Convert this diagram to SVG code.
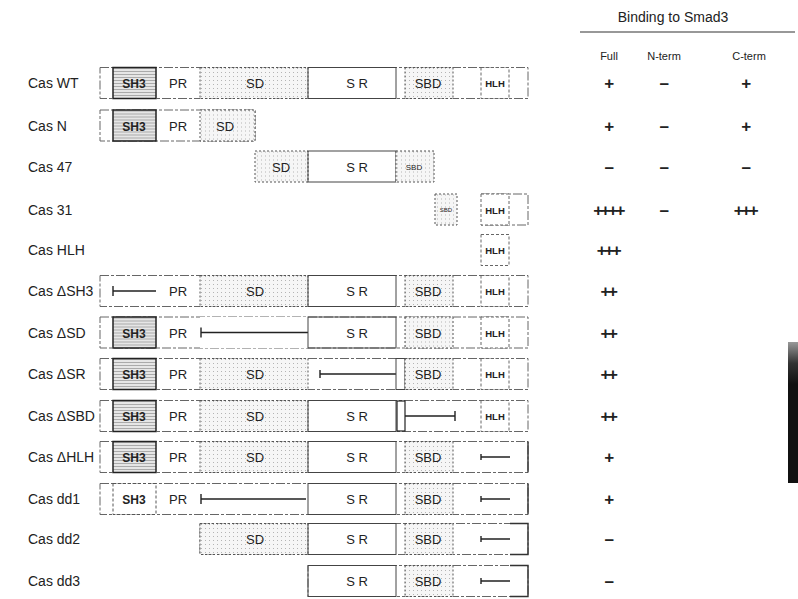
<svg xmlns="http://www.w3.org/2000/svg" width="798" height="599" viewBox="0 0 798 599">
<style>
.bg{fill:#fff}
.frame{fill:none;stroke:#666;stroke-width:1;stroke-dasharray:9 2 3 2}
.sh3{fill:url(#hatch);stroke:#222;stroke-width:1.5}
.sh3l{fill:#fff;stroke:#555;stroke-width:1;stroke-dasharray:3 2}
.sd{fill:url(#stip);stroke:#555;stroke-width:1;stroke-dasharray:2 2}
.sr{fill:none;stroke:#444;stroke-width:1}
.hlh{fill:#fff;stroke:#666;stroke-width:1;stroke-dasharray:3 2}
.del{fill:none;stroke:#222;stroke-width:1.4}
.end{fill:none;stroke:#333;stroke-width:1.4}
text{font-family:"Liberation Sans",Arial,sans-serif;fill:#222}
.lbl{font-size:14px}
.dm{font-size:13px;text-anchor:middle}
.dmb{font-size:12px;font-weight:bold;text-anchor:middle}
.hl{font-size:9.5px;font-weight:bold;text-anchor:middle}
.sm{font-size:8px;text-anchor:middle}
.val{font-size:17px;font-weight:bold;text-anchor:middle;letter-spacing:-2.5px}
.hdr{font-size:11px;text-anchor:middle}
</style>
<defs>
<pattern id="stip" width="4" height="4" patternUnits="userSpaceOnUse">
<rect width="4" height="4" fill="#f6f6f6"/>
<rect x="1" y="1" width="1" height="1" fill="#b4b4b4"/>
</pattern>
<pattern id="hatch" width="4" height="3" patternUnits="userSpaceOnUse">
<rect width="4" height="3" fill="#e6e6e6"/>
<rect y="0" width="4" height="1" fill="#aaa"/>
</pattern>
<linearGradient id="barg" x1="0" y1="0" x2="0" y2="1">
<stop offset="0" stop-color="#999"/>
<stop offset="0.15" stop-color="#333"/>
<stop offset="0.3" stop-color="#111"/>
<stop offset="1" stop-color="#111"/>
</linearGradient>
</defs>
<rect class="bg" width="798" height="599"/>

<g id="header">
<text x="673" y="22" style="font-size:14px;text-anchor:middle">Binding to Smad3</text>
<line x1="580" y1="32" x2="795" y2="32" stroke="#333" stroke-width="1.2"/>
<text class="hdr" x="609" y="60">Full</text>
<text class="hdr" x="664" y="60">N-term</text>
<text class="hdr" x="749" y="60">C-term</text>
</g>

<g id="cas-wt" transform="translate(0,83)">
<text class="lbl" x="28" y="5">Cas WT</text>
<rect class="frame" x="100" y="-15.5" width="428" height="31"/>
<rect class="sh3" x="113" y="-15.5" width="43" height="31"/>
<text class="dmb" x="134" y="5">SH3</text>
<text class="dm" x="178" y="5">PR</text>
<rect class="sd" x="200" y="-15.5" width="108" height="31"/>
<text class="dm" x="255" y="5">SD</text>
<rect class="sr" x="308" y="-15.5" width="88" height="31"/>
<text class="dm" x="357" y="5">S R</text>
<rect class="sd" x="405" y="-15.5" width="48" height="31"/>
<text class="dm" x="428" y="5">SBD</text>
<rect class="hlh" x="481" y="-15.5" width="28" height="31"/>
<text class="hl" x="495" y="4">HLH</text>
<text class="val" x="608" y="6">+</text>
<text class="val" x="663" y="6">–</text>
<text class="val" x="745" y="6">+</text>
</g>

<g id="cas-n" transform="translate(0,125.5)">
<text class="lbl" x="28" y="5">Cas N</text>
<rect class="frame" x="100" y="-15.5" width="155" height="31"/>
<rect class="sh3" x="113" y="-15.5" width="43" height="31"/>
<text class="dmb" x="134" y="5">SH3</text>
<text class="dm" x="178" y="5">PR</text>
<rect class="sd" x="200" y="-15.5" width="55" height="31"/>
<text class="dm" x="225" y="5">SD</text>
<text class="val" x="608" y="6">+</text>
<text class="val" x="663" y="6">–</text>
<text class="val" x="745" y="6">+</text>
</g>

<g id="cas-47" transform="translate(0,166.5)">
<text class="lbl" x="28" y="5">Cas 47</text>
<rect class="sd" x="255" y="-15.5" width="53" height="31"/>
<text class="dm" x="281" y="5">SD</text>
<rect class="sr" x="308" y="-15.5" width="88" height="31"/>
<text class="dm" x="357" y="5">S R</text>
<rect class="sd" x="396" y="-15.5" width="38" height="31"/>
<text class="sm" x="414" y="3">SBD</text>
<text class="val" x="608" y="6">–</text>
<text class="val" x="663" y="6">–</text>
<text class="val" x="745" y="6">–</text>
</g>

<g id="cas-31" transform="translate(0,209.5)">
<text class="lbl" x="28" y="5">Cas 31</text>
<rect class="sd" x="435" y="-15.5" width="22" height="31"/>
<text class="sm" x="446" y="2" style="font-size:6px">SBD</text>
<path class="frame" d="M481,-15.5H528V15.5H481"/>
<rect class="hlh" x="481" y="-15.5" width="28" height="31"/>
<text class="hl" x="495" y="4">HLH</text>
<text class="val" x="608" y="6">++++</text>
<text class="val" x="663" y="6">–</text>
<text class="val" x="745" y="6">+++</text>
</g>

<g id="cas-hlh" transform="translate(0,250)">
<text class="lbl" x="28" y="5">Cas HLH</text>
<rect class="hlh" x="481" y="-15.5" width="28" height="31"/>
<text class="hl" x="495" y="4">HLH</text>
<text class="val" x="608" y="6">+++</text>
</g>

<g id="cas-dsh3" transform="translate(0,291)">
<text class="lbl" x="28" y="5">Cas ΔSH3</text>
<rect class="frame" x="100" y="-15.5" width="428" height="31"/>
<path class="del" d="M113,-5V5M113,0H156"/>
<text class="dm" x="178" y="5">PR</text>
<rect class="sd" x="200" y="-15.5" width="108" height="31"/>
<text class="dm" x="255" y="5">SD</text>
<rect class="sr" x="308" y="-15.5" width="88" height="31"/>
<text class="dm" x="357" y="5">S R</text>
<rect class="sd" x="405" y="-15.5" width="48" height="31"/>
<text class="dm" x="428" y="5">SBD</text>
<rect class="hlh" x="481" y="-15.5" width="28" height="31"/>
<text class="hl" x="495" y="4">HLH</text>
<text class="val" x="608" y="6">++</text>
</g>

<g id="cas-dsd" transform="translate(0,332.5)">
<text class="lbl" x="28" y="5">Cas ΔSD</text>
<rect class="frame" x="100" y="-15.5" width="428" height="31"/>
<rect class="sh3" x="113" y="-15.5" width="43" height="31"/>
<text class="dmb" x="134" y="5">SH3</text>
<text class="dm" x="178" y="5">PR</text>
<rect x="200" y="-15.5" width="108" height="31" fill="#fff"/>
<path class="del" d="M201,-5V5M201,0H308"/>
<rect class="sr" x="308" y="-15.5" width="88" height="31"/>
<text class="dm" x="357" y="5">S R</text>
<rect class="sd" x="405" y="-15.5" width="48" height="31"/>
<text class="dm" x="428" y="5">SBD</text>
<rect class="hlh" x="481" y="-15.5" width="28" height="31"/>
<text class="hl" x="495" y="4">HLH</text>
<text class="val" x="608" y="6">++</text>
</g>

<g id="cas-dsr" transform="translate(0,374)">
<text class="lbl" x="28" y="5">Cas ΔSR</text>
<rect class="frame" x="100" y="-15.5" width="428" height="31"/>
<rect class="sh3" x="113" y="-15.5" width="43" height="31"/>
<text class="dmb" x="134" y="5">SH3</text>
<text class="dm" x="178" y="5">PR</text>
<rect class="sd" x="200" y="-15.5" width="108" height="31"/>
<text class="dm" x="255" y="5">SD</text>
<rect x="309" y="-15" width="87" height="30" fill="#fff"/>
<path class="del" d="M320,-4V4M320,0H396"/>
<rect class="sr" x="396" y="-15.5" width="9" height="31"/>
<rect class="sd" x="405" y="-15.5" width="48" height="31"/>
<text class="dm" x="428" y="5">SBD</text>
<rect class="hlh" x="481" y="-15.5" width="28" height="31"/>
<text class="hl" x="495" y="4">HLH</text>
<text class="val" x="608" y="6">++</text>
</g>

<g id="cas-dsbd" transform="translate(0,416)">
<text class="lbl" x="28" y="5">Cas ΔSBD</text>
<rect class="frame" x="100" y="-15.5" width="428" height="31"/>
<rect class="sh3" x="113" y="-15.5" width="43" height="31"/>
<text class="dmb" x="134" y="5">SH3</text>
<text class="dm" x="178" y="5">PR</text>
<rect class="sd" x="200" y="-15.5" width="108" height="31"/>
<text class="dm" x="255" y="5">SD</text>
<rect class="sr" x="308" y="-15.5" width="88" height="31"/>
<text class="dm" x="357" y="5">S R</text>
<rect x="397" y="-15" width="8" height="30" fill="none" stroke="#222" stroke-width="1.2"/>
<path class="del" d="M405,0H455M455,-5V5"/>
<rect class="hlh" x="481" y="-15.5" width="28" height="31"/>
<text class="hl" x="495" y="4">HLH</text>
<text class="val" x="608" y="6">++</text>
</g>

<g id="cas-dhlh" transform="translate(0,457)">
<text class="lbl" x="28" y="5">Cas ΔHLH</text>
<rect class="frame" x="100" y="-15.5" width="428" height="31"/>
<rect class="sh3" x="113" y="-15.5" width="43" height="31"/>
<text class="dmb" x="134" y="5">SH3</text>
<text class="dm" x="178" y="5">PR</text>
<rect class="sd" x="200" y="-15.5" width="108" height="31"/>
<text class="dm" x="255" y="5">SD</text>
<rect class="sr" x="308" y="-15.5" width="88" height="31"/>
<text class="dm" x="357" y="5">S R</text>
<rect class="sd" x="405" y="-15.5" width="48" height="31"/>
<text class="dm" x="428" y="5">SBD</text>
<path class="del" d="M481,-3V3M481,0H510"/>
<path class="end" d="M528,-15.5V15.5"/>
<text class="val" x="608" y="6">+</text>
</g>

<g id="cas-dd1" transform="translate(0,499)">
<text class="lbl" x="28" y="5">Cas dd1</text>
<rect class="frame" x="100" y="-15.5" width="428" height="31"/>
<rect class="sh3l" x="113" y="-15.5" width="43" height="31"/>
<text class="dmb" x="134" y="5">SH3</text>
<text class="dm" x="178" y="5">PR</text>
<rect x="200" y="-15" width="108" height="30" fill="#fff"/>
<path class="del" d="M201,-5V5M201,0H306"/>
<rect class="sr" x="308" y="-15.5" width="88" height="31"/>
<text class="dm" x="357" y="5">S R</text>
<rect class="sd" x="405" y="-15.5" width="48" height="31"/>
<text class="dm" x="428" y="5">SBD</text>
<path class="del" d="M481,-3V3M481,0H510"/>
<path class="end" d="M528,-15.5V15.5"/>
<text class="val" x="608" y="6">+</text>
</g>

<g id="cas-dd2" transform="translate(0,539)">
<text class="lbl" x="28" y="5">Cas dd2</text>
<rect class="frame" x="200" y="-15.5" width="328" height="31"/>
<rect class="sd" x="200" y="-15.5" width="108" height="31"/>
<text class="dm" x="255" y="5">SD</text>
<rect class="sr" x="308" y="-15.5" width="88" height="31"/>
<text class="dm" x="357" y="5">S R</text>
<rect class="sd" x="405" y="-15.5" width="48" height="31"/>
<text class="dm" x="428" y="5">SBD</text>
<path class="del" d="M481,-3V3M481,0H510"/>
<path class="end" d="M510,-15.5H528V15.5H510"/>
<text class="val" x="608" y="6">–</text>
</g>

<g id="cas-dd3" transform="translate(0,581)">
<text class="lbl" x="28" y="5">Cas dd3</text>
<rect class="frame" x="308" y="-15.5" width="220" height="31"/>
<rect class="sr" x="308" y="-15.5" width="88" height="31"/>
<text class="dm" x="357" y="5">S R</text>
<rect class="sd" x="405" y="-15.5" width="48" height="31"/>
<text class="dm" x="428" y="5">SBD</text>
<path class="del" d="M481,-3V3M481,0H510"/>
<path class="end" d="M510,-15.5H528V15.5H510"/>
<text class="val" x="608" y="6">–</text>
</g>

<rect id="bar" x="788" y="342" width="10" height="141" fill="url(#barg)"/>
</svg>
